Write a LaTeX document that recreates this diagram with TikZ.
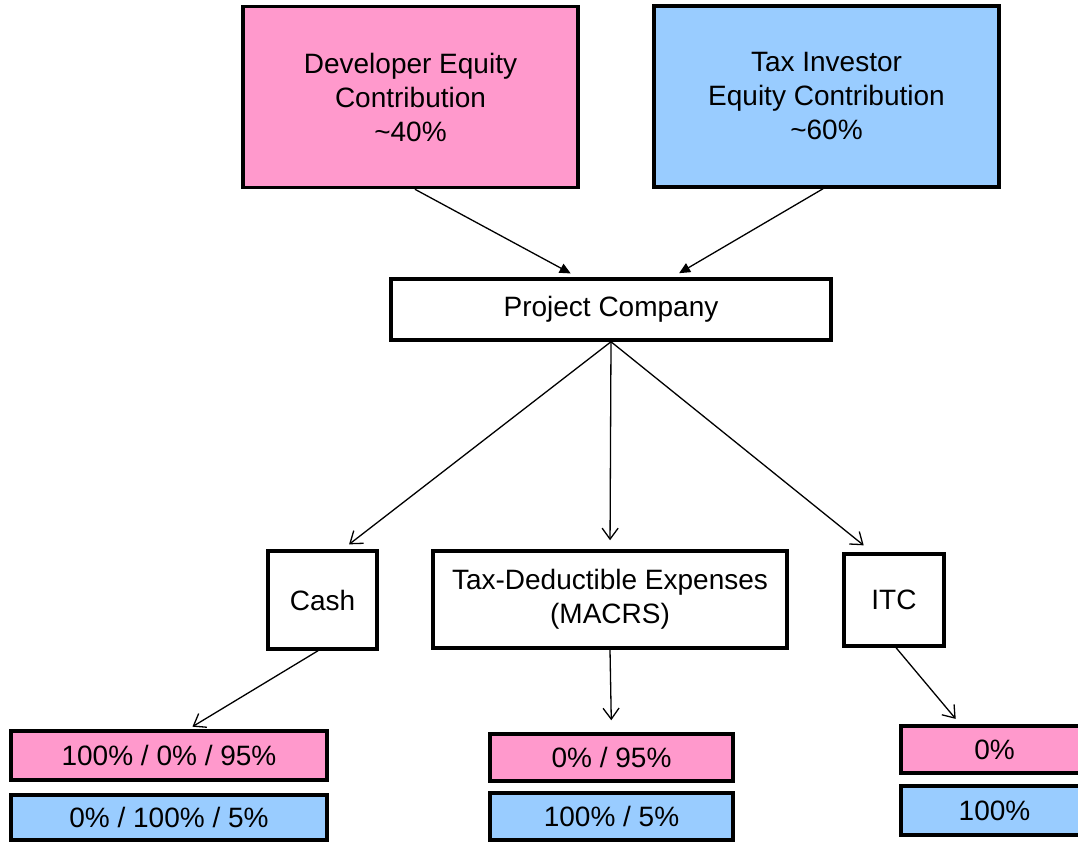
\documentclass[tikz,border=0pt]{standalone}
\usepackage{fontspec}
\setmainfont{Liberation Sans}
\usetikzlibrary{arrows.meta,calc}
\definecolor{devpink}{HTML}{FF99CC}
\definecolor{invblue}{HTML}{99CCFF}
\begin{document}
\begin{tikzpicture}[x=1pt,y=-1pt,
  box/.style={draw=black,line width=3.5pt,rectangle,inner sep=0pt,align=center,
    font=\fontsize{28}{34}\selectfont},
  pinkbox/.style={box,fill=devpink},
  bluebox/.style={box,fill=invblue},
  feed/.style={line width=1.3pt,-{Triangle[length=11pt,width=10pt]},shorten >=8pt},
  split/.style={line width=1.3pt,-{Straight Barb[length=11pt,width=16pt,line width=1.3pt]}}]
\useasboundingbox (0,0) rectangle (1078,843);
\clip (0,0) rectangle (1078,843);
% top boxes
\node[pinkbox,minimum width=335pt,minimum height=181pt] (dev) at (410.5,97) {Developer Equity\\Contribution\\\textasciitilde40\%};
\node[bluebox,minimum width=345pt,minimum height=181pt] (tax) at (826.5,96.5) {Tax Investor\\Equity Contribution\\\textasciitilde60\%};
% project company
\node[box,minimum width=440pt,minimum height=61pt] (pc) at (611,309.5) {Project Company};
% middle row
\node[box,minimum width=109pt,minimum height=98pt] (cash) at (322.5,600) {Cash};
\node[box,minimum width=354pt,minimum height=97pt] (tde) at (610,599.5) {Tax-Deductible Expenses\\(MACRS)};
\node[box,minimum width=100pt,minimum height=92pt] (itc) at (894,600) {ITC};
% bottom boxes
\node[pinkbox,minimum width=316pt,minimum height=49pt] (lp) at (169,755.5) {100\% / 0\% / 95\%};
\node[bluebox,minimum width=316pt,minimum height=45pt] (lb) at (169,817.5) {0\% / 100\% / 5\%};
\node[pinkbox,minimum width=243pt,minimum height=47pt] (mp) at (611.5,757.5) {0\% / 95\%};
\node[bluebox,minimum width=243pt,minimum height=47pt] (mb) at (611.5,816.5) {100\% / 5\%};
\node[pinkbox,minimum width=187pt,minimum height=47pt] (rp) at (994.5,749.5) {0\%};
\node[bluebox,minimum width=187pt,minimum height=49pt] (rb) at (994.5,810.5) {100\%};
% connectors
\draw[feed] ($(dev.south west)!0.513!(dev.south east)$) -- ($(pc.north west)!0.425!(pc.north east)$);
\draw[feed] ($(tax.south west)!0.49!(tax.south east)$) -- ($(pc.north west)!0.638!(pc.north east)$);
\draw[split,shorten >=8pt] (pc.south) -- ($(cash.north west)!0.68!(cash.north east)$);
\draw[split,shorten >=9pt] (pc.south) -- (tde.north);
\draw[split,shorten >=11pt] (pc.south) -- ($(itc.north west)!0.29!(itc.north east)$);
\draw[split,shorten >=5pt] ($(cash.south west)!0.46!(cash.south east)$) -- ($(lp.north west)!0.56!(lp.north east)$);
\draw[split,shorten >=12pt] (tde.south) -- (mp.north);
\draw[split,shorten >=7pt] ($(itc.south west)!0.52!(itc.south east)$) -- ($(rp.north west)!0.32!(rp.north east)$);
\end{tikzpicture}
\end{document}
